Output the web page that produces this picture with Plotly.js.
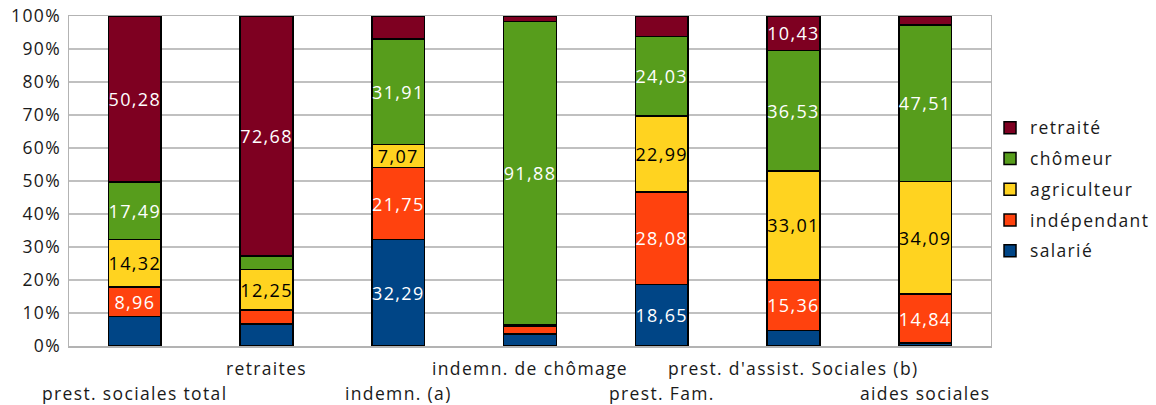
<!DOCTYPE html>
<html>
<head>
<meta charset="utf-8">
<script src="https://cdn.plot.ly/plotly-3.0.1.min.js"></script>
<style>
html,body{margin:0;padding:0;background:#fff;}
#chart{width:1156px;height:405px;}
svg text{letter-spacing:1.35px;}
</style>
</head>
<body>
<div id="chart"></div>
<script>
const categories = ["prest. sociales total", "retraites", "indemn. (a)", "indemn. de chômage", "prest. Fam.", "prest. d'assist. Sociales (b)", "aides sociales"];
const seriesNames = ["salarié", "indépendant", "agriculteur", "chômeur", "retraité"];
const salarie     = [8.95, 6.7, 32.29, 3.6, 18.65, 4.67, 0.9];
const independant = [8.96, 4.2, 21.75, 2.5, 28.08, 15.36, 14.84];
const agriculteur = [14.32, 12.25, 7.07, 0.4, 22.99, 33.01, 34.09];
const chomeur     = [17.49, 4.17, 31.91, 91.88, 24.03, 36.53, 47.51];
const retraite    = [50.28, 72.68, 6.98, 1.62, 6.25, 10.43, 2.66];
const labelSalarie     = ["", "", "32,29", "", "18,65", "", ""];
const labelIndependant = ["8,96", "", "21,75", "", "28,08", "15,36", "14,84"];
const labelAgriculteur = ["14,32", "12,25", "7,07", "", "22,99", "33,01", "34,09"];
const labelChomeur     = ["17,49", "", "31,91", "91,88", "24,03", "36,53", "47,51"];
const labelRetraite    = ["50,28", "72,68", "", "", "", "10,43", ""];

const values = [salarie, independant, agriculteur, chomeur, retraite];
const labels = [labelSalarie, labelIndependant, labelAgriculteur, labelChomeur, labelRetraite];
const colors = ["#004586", "#ff420e", "#ffd320", "#579d1c", "#7e0021"];
const textColors = ["#ffffff", "#ffffff", "#000000", "#ffffff", "#ffffff"];
const FONT = "'Open Sans', sans-serif";

const traces = values.map((v, i) => ({
  type: "bar",
  name: seriesNames[i],
  legendgroup: "g" + i,
  legendrank: 100 - i,
  x: categories,
  y: v,
  text: labels[i],
  texttemplate: "%{text}",
  textposition: "inside",
  insidetextanchor: "middle",
  textangle: 0,
  constraintext: "none",
  insidetextfont: {family: FONT, size: 18, color: textColors[i]},
  marker: {color: colors[i], line: {color: "#000000", width: 1.5}},
  hoverinfo: "none"
}));

const annotations = categories.map((c, i) => ({
  x: c, xref: "x",
  y: (i % 2 === 1) ? -0.066 : -0.142, yref: "paper",
  text: c, showarrow: false,
  xanchor: "center", yanchor: "middle",
  font: {family: FONT, size: 17.5, color: "#1a1a1a"}
}));

const layout = {
  width: 1156, height: 405,
  margin: {l: 69, r: 0, t: 16, b: 59},
  paper_bgcolor: "#ffffff", plot_bgcolor: "#ffffff",
  barmode: "stack",
  barnorm: "percent",
  bargap: 0.6,
  showlegend: true,
  legend: {
    x: 0.8473, xanchor: "left", y: 0.475, yanchor: "middle",
    traceorder: "grouped",
    bgcolor: "rgba(0,0,0,0)",
    font: {family: FONT, size: 17.5, color: "#1a1a1a"},
    itemwidth: 30, tracegroupgap: 5
  },
  xaxis: {
    domain: [0, 0.8482],
    range: [-0.5, categories.length - 0.5], autorange: false,
    showticklabels: false, ticks: "",
    showline: true, linecolor: "#b3b3b3", linewidth: 1.5, mirror: true,
    showgrid: false, fixedrange: true
  },
  yaxis: {
    range: [0, 100], dtick: 10, tick0: 0, ticksuffix: "%",
    showgrid: true, gridcolor: "#c0c0c0", gridwidth: 1.5,
    showline: true, linecolor: "#b3b3b3", linewidth: 1.5, mirror: true,
    ticks: "", ticklen: 0, ticklabelstandoff: 3,
    tickfont: {family: FONT, size: 17.5, color: "#1a1a1a"},
    zeroline: false, fixedrange: true
  },
  annotations: annotations
};

Plotly.newPlot("chart", traces, layout, {displayModeBar: false, staticPlot: true});
</script>
</body>
</html>
